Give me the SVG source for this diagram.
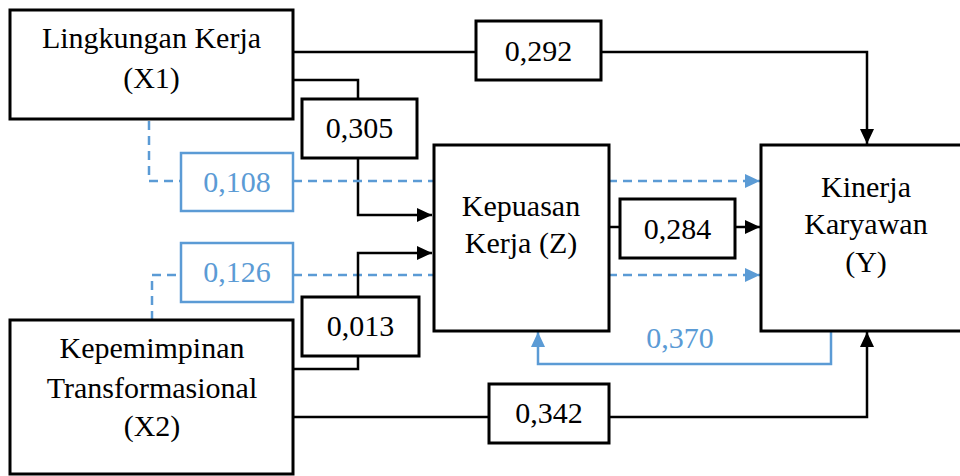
<svg xmlns="http://www.w3.org/2000/svg" width="960" height="476" viewBox="0 0 960 476">
  <style>
    .box { fill: #ffffff; stroke: #000000; stroke-width: 3; }
    .bbox { fill: #ffffff; stroke: #5B9BD5; stroke-width: 2.5; }
    .lbl { font-size: 30px; text-anchor: middle; fill: #000000; }
    .blbl { font-size: 30px; text-anchor: middle; fill: #5B9BD5; }
    .ln { fill: none; stroke: #000000; stroke-width: 2.5; }
    .dl { fill: none; stroke: #5B9BD5; stroke-width: 2.5; stroke-dasharray: 9 6; }
    .sl { fill: none; stroke: #5B9BD5; stroke-width: 2.5; }
  </style>
  <defs>
    <marker id="ab" markerUnits="userSpaceOnUse" markerWidth="15" markerHeight="14" refX="15" refY="7" orient="auto">
      <path d="M0,0 L15,7 L0,14 z" fill="#000000"/>
    </marker>
    <marker id="abl" markerUnits="userSpaceOnUse" markerWidth="15" markerHeight="14" refX="15" refY="7" orient="auto">
      <path d="M0,0 L15,7 L0,14 z" fill="#5B9BD5"/>
    </marker>
  </defs>
  <rect width="960" height="476" fill="#ffffff"/>

  <g id="connectors">
    <path class="ln" d="M293,52 H476"/>
    <path class="ln" d="M601,52 H867 V144" marker-end="url(#ab)"/>
    <path class="ln" d="M293,80 H358 V99"/>
    <path class="ln" d="M358,158 V215 H432" marker-end="url(#ab)"/>
    <path class="dl" d="M149,121 V181 H181"/>
    <path class="dl" d="M293,181 H760" marker-end="url(#abl)"/>
    <path class="dl" d="M152,320 V275 H181"/>
    <path class="dl" d="M293,275 H760" marker-end="url(#abl)"/>
    <path class="ln" d="M293,369 H358 V356"/>
    <path class="ln" d="M358,297 V253 H432" marker-end="url(#ab)"/>
    <path class="ln" d="M609,227 H620"/>
    <path class="ln" d="M735,227 H760" marker-end="url(#ab)"/>
    <path class="ln" d="M293,417 H489"/>
    <path class="ln" d="M609,417 H867 V332" marker-end="url(#ab)"/>
    <path class="sl" d="M831,331 V364 H538 V332" marker-end="url(#abl)"/>
  </g>

  <g id="node-x1">
    <rect class="box" x="10" y="10" width="283" height="109"/>
    <text class="lbl" x="151.5" y="48" style="font-family:'Liberation Serif',serif">Lingkungan Kerja</text>
    <text class="lbl" x="151.5" y="88" style="font-family:'Liberation Serif',serif">(X1)</text>
  </g>
  <g id="node-x2">
    <rect class="box" x="10" y="320" width="283" height="154"/>
    <text class="lbl" x="152" y="358" style="font-family:'Liberation Serif',serif">Kepemimpinan</text>
    <text class="lbl" x="152" y="398" style="font-family:'Liberation Serif',serif">Transformasional</text>
    <text class="lbl" x="152" y="436" style="font-family:'Liberation Serif',serif">(X2)</text>
  </g>
  <g id="node-z">
    <rect class="box" x="434" y="145" width="175" height="186"/>
    <text class="lbl" x="521" y="216" style="font-family:'Liberation Serif',serif">Kepuasan</text>
    <text class="lbl" x="521" y="253" style="font-family:'Liberation Serif',serif">Kerja (Z)</text>
  </g>
  <g id="node-y">
    <rect class="box" x="761" y="145" width="215" height="186"/>
    <text class="lbl" x="866" y="197" style="font-family:'Liberation Serif',serif">Kinerja</text>
    <text class="lbl" x="866" y="234" style="font-family:'Liberation Serif',serif">Karyawan</text>
    <text class="lbl" x="866" y="272" style="font-family:'Liberation Serif',serif">(Y)</text>
  </g>

  <g id="label-292">
    <rect class="box" x="476" y="21" width="125" height="59"/>
    <text class="lbl" x="538.5" y="61" style="font-family:'Liberation Serif',serif">0,292</text>
  </g>
  <g id="label-305">
    <rect class="box" x="302" y="99" width="115" height="59"/>
    <text class="lbl" x="359.5" y="138" style="font-family:'Liberation Serif',serif">0,305</text>
  </g>
  <g id="label-108">
    <rect class="bbox" x="181" y="153" width="112" height="58"/>
    <text class="blbl" x="237" y="192" style="font-family:'Liberation Serif',serif">0,108</text>
  </g>
  <g id="label-126">
    <rect class="bbox" x="181" y="243" width="112" height="59"/>
    <text class="blbl" x="237" y="282" style="font-family:'Liberation Serif',serif">0,126</text>
  </g>
  <g id="label-013">
    <rect class="box" x="302" y="297" width="117" height="59"/>
    <text class="lbl" x="360.5" y="336" style="font-family:'Liberation Serif',serif">0,013</text>
  </g>
  <g id="label-284">
    <rect class="box" x="620" y="199" width="115" height="59"/>
    <text class="lbl" x="677.5" y="239" style="font-family:'Liberation Serif',serif">0,284</text>
  </g>
  <g id="label-342">
    <rect class="box" x="489" y="384" width="120" height="59"/>
    <text class="lbl" x="549" y="423" style="font-family:'Liberation Serif',serif">0,342</text>
  </g>
  <g id="label-370">
    <text class="blbl" x="680" y="348" style="font-family:'Liberation Serif',serif">0,370</text>
  </g>
</svg>
